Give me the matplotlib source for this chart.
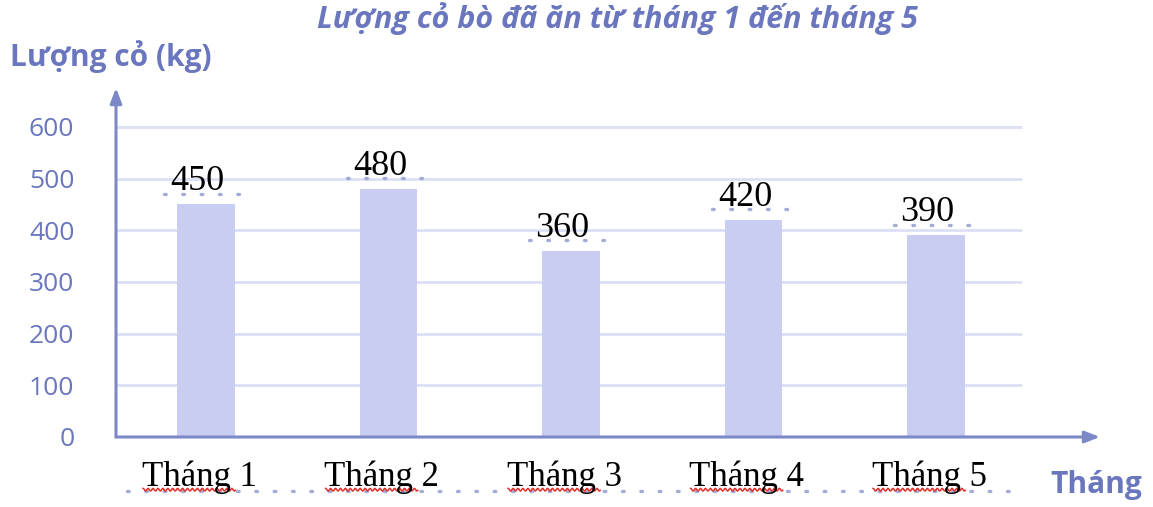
import numpy as np
import matplotlib
matplotlib.use("Agg")
import matplotlib.pyplot as plt

# ─── Data ─────────────────────────────────────────────────────────────
months = ["Tháng 1", "Tháng 2", "Tháng 3", "Tháng 4", "Tháng 5"]
grass_kg = [450, 480, 360, 420, 390]
y_ticks = [0, 100, 200, 300, 400, 500, 600]

TITLE = "Lượng cỏ bò đã ăn từ tháng 1 đến tháng 5"
Y_LABEL = "Lượng cỏ (kg)"
X_LABEL = "Tháng"

# ─── Style ────────────────────────────────────────────────────────────
BLUE = "#6a76bd"
AXIS = "#7d88c9"
GRID = "#dde0f4"
BAR = "#c8cdf1"
DOTS = "#a3abd6"
SANS = ["Open Sans", "DejaVu Sans"]
SERIF = ["Liberation Serif", "DejaVu Serif"]

W, H = 1153, 507
fig = plt.figure(figsize=(W / 100, H / 100), dpi=100)

# axes box: y axis at px 116, x arrow tip at px 1100, y=0 at px 437, arrow top at px 88
ax = fig.add_axes([116 / W, (H - 437) / H, (1100 - 116) / W, (437 - 88) / H])
x = np.arange(len(months))
px_per_bar = 182.5
x_left = -(206 - 116) / px_per_bar
x_right = x_left + (1100 - 116) / px_per_bar
ax.set_xlim(x_left, x_right)
px_per_unit = (437 - 127) / 600
ax.set_ylim(0, (437 - 88) / px_per_unit)

for s in ax.spines.values():
    s.set_visible(False)
ax.set_xticks([])
ax.set_yticks(y_ticks)
ax.set_yticklabels([str(t) for t in y_ticks], color=BLUE, fontsize=19,
                   family=SANS)
ax.tick_params(axis="y", length=0, pad=30)

# gridlines
grid_end = x_left + (1022 - 116) / px_per_bar
ax.hlines(y_ticks[1:], x_left, grid_end, color=GRID, lw=2, zorder=0)

# bars
ax.bar(x, grass_kg, width=0.315, color=BAR, zorder=1)

# axes with arrows
arrow = dict(arrowstyle="-|>,head_length=0.9,head_width=0.35",
             color=AXIS, lw=2.2, shrinkA=0, shrinkB=0)
ax.annotate("", xy=(1, 0), xytext=(0, 0), xycoords="axes fraction",
            arrowprops=arrow, zorder=3)
ax.annotate("", xy=(0, 1), xytext=(0, 0), xycoords="axes fraction",
            arrowprops=arrow, zorder=3)

# value labels above bars, with dotted fill-in leaders at their baseline
for xi, v in zip(x, grass_kg):
    ax.annotate(str(v), (xi, v), xytext=(-6, 16.5), textcoords="offset points",
                ha="center", va="center", fontsize=26, family=SERIF,
                color="black", zorder=4)
    ax.plot([xi - 0.23, xi + 0.23], [v + 21, v + 21], color=DOTS,
            lw=2.4, linestyle=(0, (0.5, 5)), dash_capstyle="round",
            clip_on=False, zorder=2)

# month labels below the x axis
for xi, m in zip(x, months):
    ax.annotate(m, (xi, 0), xytext=(-5, -29), textcoords="offset points",
                ha="center", va="center", fontsize=25, family=SERIF,
                color="black", annotation_clip=False, zorder=4)

# dotted fill-in line under month labels
ax.plot([x_left + 0.06, grid_end - 0.05], [-104, -104], color=DOTS, lw=2.4,
        linestyle=(0, (0.5, 5)), dash_capstyle="round", clip_on=False,
        zorder=2)

# red spell-check squiggles under "Tháng"
for xi in x:
    sx = np.linspace(xi - 0.345, xi + 0.16, 120)
    sy = -102 + 2.6 * np.sin((sx - xi) * 2 * np.pi / 0.027)
    ax.plot(sx, sy, color="#e0302a", lw=1.1, clip_on=False, zorder=3)

# titles
fig.text(617 / W, 1 - 19 / H, TITLE, ha="center", va="center", color=BLUE,
         fontsize=22, fontweight="bold", fontstyle="italic", family=SANS)
fig.text(10 / W, 1 - 57 / H, Y_LABEL, ha="left", va="center", color=BLUE,
         fontsize=21.5, fontweight="bold", family=SANS)
fig.text(1142 / W, 1 - 485 / H, X_LABEL, ha="right", va="center", color=BLUE,
         fontsize=21.5, fontweight="bold", family=SANS)

fig.savefig("out.png", dpi=100, facecolor="white")
